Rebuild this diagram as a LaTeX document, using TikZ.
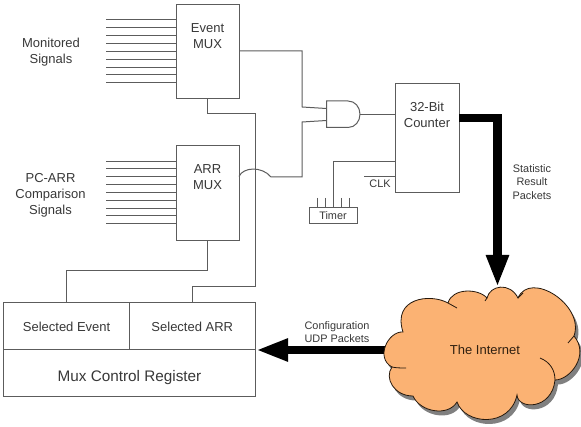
\documentclass[tikz,border=0pt]{standalone}
\usepackage{fontspec}
\setmainfont{Liberation Sans}
\usetikzlibrary{arrows.meta}
\definecolor{wire}{gray}{0.36}
\definecolor{txt}{gray}{0.22}
\definecolor{cloudfill}{RGB}{251,178,115}
\definecolor{cloudshadow}{gray}{0.5}
\tikzset{
  x=1pt,y=-1pt,
  wireline/.style={draw=wire,line width=1pt},
  boxnode/.style={draw=wire,line width=1pt,inner sep=0pt,outer sep=0pt,fill=white},
  lab/.style={inner sep=0pt,text=txt,align=center,font=\fontsize{13}{16}\selectfont},
  smalllab/.style={inner sep=0pt,text=txt,align=center,font=\fontsize{10.9}{13.2}\selectfont},
  fatarrow/.style={line width=8.5pt,black,line join=miter,-{Triangle[length=32pt,width=21pt]}},
}
\newcommand{\cloudshape}{(403,332)
  .. controls (388,331) and (375,358) .. (392,367)
  .. controls (384,378) and (394,396) .. (413,396)
  .. controls (420,412) and (448,417) .. (457,402)
  .. controls (465,425) and (510,428) .. (517,395)
  .. controls (518,410) and (552,410) .. (555,380)
  .. controls (570,380) and (590,355) .. (574,336)
  .. controls (585,305) and (530,270) .. (518,298)
  .. controls (510,282) and (490,285) .. (487,298)
  .. controls (478,288) and (452,288) .. (448,303)
  .. controls (430,293) and (392,298) .. (403,332) -- cycle}
\begin{document}
\begin{tikzpicture}
\useasboundingbox (0,0) rectangle (581,427);
% boxes
\node[boxnode,minimum width=63pt,minimum height=94pt] (evmux) at (207.5,51.5) {};
\node[boxnode,minimum width=63pt,minimum height=94.5pt] (arrmux) at (207.5,192.8) {};
\node[boxnode,minimum width=63.5pt,minimum height=109.5pt] (counter) at (427.3,137.8) {};
\node[boxnode,minimum width=48pt,minimum height=16pt] (timer) at (333,216) {};
\node[boxnode,minimum width=126pt,minimum height=47pt] (selevent) at (66.6,326.5) {};
\node[boxnode,minimum width=125.5pt,minimum height=47pt] (selarr) at (192.3,326.5) {};
\node[boxnode,minimum width=251.5pt,minimum height=47pt] (muxreg) at (129.3,373.5) {};
% labels
\node[lab] (evlab) at (207.5,36.5) {Event\\MUX};
\node[lab] (arrlab) at (207.5,177.5) {ARR\\MUX};
\node[lab] (ctrlab) at (427,114.7) {32-Bit\\Counter};
\node[lab] (monlab) at (51,52) {Monitored\\Signals};
\node[lab] (pclab) at (50.5,195) {PC-ARR\\Comparison\\Signals};
\node[smalllab] (statlab) at (532,182) {Statistic\\Result\\Packets};
\node[smalllab] (conflab) at (337,332.5) {Configuration\\UDP Packets};
\node[smalllab] (clklab) at (380,184) {CLK};
\node[smalllab] (timerlab) at (333,215.3) {Timer};
\node[lab] at (selevent.center) (selevlab) {Selected Event};
\node[lab] at (selarr.center) (selarrlab) {Selected ARR};
\node[lab,font=\fontsize{15.3}{18}\selectfont] (muxlab) at (129.5,377.5) {Mux Control Register};
% input signals
\foreach \y/\n in {20/1,28/2,36/3,44/4,52/5,59.5/6,67.5/7,75/8,83/9}{
  \coordinate (es\n) at (106,\y);
  \draw[wireline] (es\n) -- (evmux.west |- es\n);
}
\foreach \y/\n in {161.5/1,169/2,177/3,185/4,193/5,201/6,209/7,216/8,224/9}{
  \coordinate (as\n) at (106,\y);
  \draw[wireline] (as\n) -- (arrmux.west |- as\n);
}
% AND gate
\coordinate (andtl) at (326.5,101);
\coordinate (andbl) at (326.5,127.5);
\coordinate (andi) at (326.5,108.5);
\coordinate (andj) at (326.5,120.5);
\coordinate (ando) at (360,114.2);
\draw[wireline,fill=white] (andtl) -- (348,101) .. controls (355,101) and (360,107) .. (ando)
  .. controls (360,121.5) and (355,127.5) .. (348,127.5) -- (andbl) -- cycle;
% connectors
\coordinate (e1) at (302,51);
\coordinate (e2) at (302,107);
\draw[wireline] (evmux.east |- e1) -- (e1) -- (e2) -- (andi);
\coordinate (a0) at (239,176.5);
\coordinate (a1) at (271,177);
\coordinate (a2) at (302,177);
\coordinate (a3) at (302,122);
\draw[wireline] (a0) .. controls (243,167) and (262,166) .. (a1) -- (a2) -- (a3) -- (andj);
\draw[wireline] (ando) -- (counter.west |- ando);
% event mux to selected arr
\coordinate (m1) at (207.5,114);
\coordinate (m2) at (255,114);
\coordinate (m3) at (255,286.7);
\coordinate (m4) at (192.3,286.7);
\draw[wireline] (evmux.south) -- (m1) -- (m2) -- (m3) -- (m4) -- (selarr.north);
% arr mux to selected event
\coordinate (n1) at (207.5,271);
\coordinate (n2) at (66.6,271);
\draw[wireline] (arrmux.south) -- (n1) -- (n2) -- (selevent.north);
% timer
\coordinate (t1) at (333,161.7);
\draw[wireline] (timer.north) -- (t1) -- (counter.west |- t1);
\foreach \x/\n in {317/1,325/2,341/3,349/4}{
  \coordinate (p\n) at (\x,198);
  \draw[wireline] (p\n) -- (timer.north -| p\n);
}
\coordinate (c1) at (364,177);
\draw[wireline] (c1) -- (counter.west |- c1);
% cloud
\fill[cloudshadow] [shift={(3,4.5)}] \cloudshape;
\coordinate (cloudw) at (386,350);
\draw[fatarrow] (cloudw) -- (256,350);
\draw[line width=0.8pt,draw=black!80!brown,fill=cloudfill] \cloudshape;
\draw[line width=0.8pt,draw=black!80!brown]
  (392,367) .. controls (396,368) and (402,368) .. (406,368)
  (555,380) .. controls (555,370) and (550,362) .. (540,358)
  (574,336) -- (568,343)
  (448,303) -- (457,308)
  (518,298) -- (523,293)
  (487,298) -- (485,301);
\node[lab,text=black!75!brown] (net) at (485,350) {The Internet};
% output arrow
\coordinate (k1) at (497.5,118);
\coordinate (k2) at (497.5,287);
\draw[fatarrow] (counter.east |- k1) -- (k1) -- (k2);
\end{tikzpicture}
\end{document}
